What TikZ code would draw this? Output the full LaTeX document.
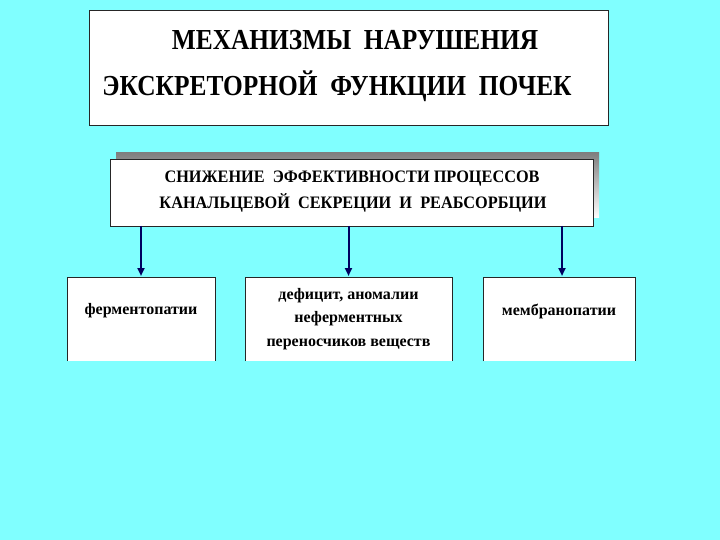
\documentclass[tikz,border=0pt]{standalone}
\usepackage{fontspec}
\setmainfont{Liberation Serif}
\newfontfamily\titlefont[FakeStretch=0.875]{Liberation Serif}
\newfontfamily\midfont[FakeStretch=0.93]{Liberation Serif}
\usetikzlibrary{arrows.meta}
\definecolor{bg}{RGB}{128,255,255}
\definecolor{arr}{RGB}{0,0,96}
\definecolor{shade}{RGB}{128,128,128}
\begin{document}
\begin{tikzpicture}[x=1pt,y=-1pt,
  boxfill/.style={fill=white,draw=none,inner sep=0pt,outer sep=0pt},
  edge/.style={draw=black!85,line width=0.8pt},
  titletxt/.style={font=\titlefont\bfseries\fontsize{29}{34}\selectfont,inner sep=0pt,anchor=base},
  midtxt/.style={font=\midfont\bfseries\fontsize{17.5}{22}\selectfont,inner sep=0pt,anchor=base},
  lowtxt/.style={font=\bfseries\fontsize{16}{23.5}\selectfont,inner sep=0pt,align=center},
  conn/.style={draw=arr,line width=2pt,-{Triangle[length=8pt,width=7pt]},shorten >=1pt}]
\fill[bg] (0,0) rectangle (720,540);
\useasboundingbox (0,0) rectangle (720,540);

% title box
\node[boxfill,edge,minimum width=519pt,minimum height=115pt] (title) at (349,68) {};
\node[titletxt] (t1) at (355,50) {МЕХАНИЗМЫ\ \ НАРУШЕНИЯ};
\node[titletxt] (t2) at (337,96) {ЭКСКРЕТОРНОЙ\ \ ФУНКЦИИ\ \ ПОЧЕК};

% middle box with shadow
\fill[shade] (116,153) rectangle (599,218);
\node[boxfill,edge,minimum width=483pt,minimum height=67pt] (main) at (351.5,192.5) {};
\node[midtxt] (m1) at (352,183) {СНИЖЕНИЕ\ \ ЭФФЕКТИВНОСТИ ПРОЦЕССОВ};
\node[midtxt] (m2) at (353,208) {КАНАЛЬЦЕВОЙ\ \ СЕКРЕЦИИ\ \ И\ \ РЕАБСОРБЦИИ};

% lower boxes (open at the bottom)
\node[boxfill,minimum width=148pt,minimum height=84pt] (b1) at (141,319) {};
\node[boxfill,minimum width=207pt,minimum height=84pt] (b2) at (348.5,319) {};
\node[boxfill,minimum width=152pt,minimum height=84pt] (b3) at (559,319) {};
\foreach \b in {b1,b2,b3}
  \draw[edge] (\b.south west) -- (\b.north west) -- (\b.north east) -- (\b.south east);

\node[lowtxt] (l1) at (141,311) {ферментопатии};
\node[lowtxt] (l2) at (348.5,319) {дефицит, аномалии\\неферментных\\переносчиков веществ};
\node[lowtxt] (l3) at (559,311) {мембранопатии};

% connectors
\draw[conn] (main.south -| b1.north) -- (b1.north);
\draw[conn] (main.south -| b2.north) -- (b2.north);
\draw[conn] ([xshift=3pt]main.south -| b3.north) -- ([xshift=3pt]b3.north);
\end{tikzpicture}
\end{document}
